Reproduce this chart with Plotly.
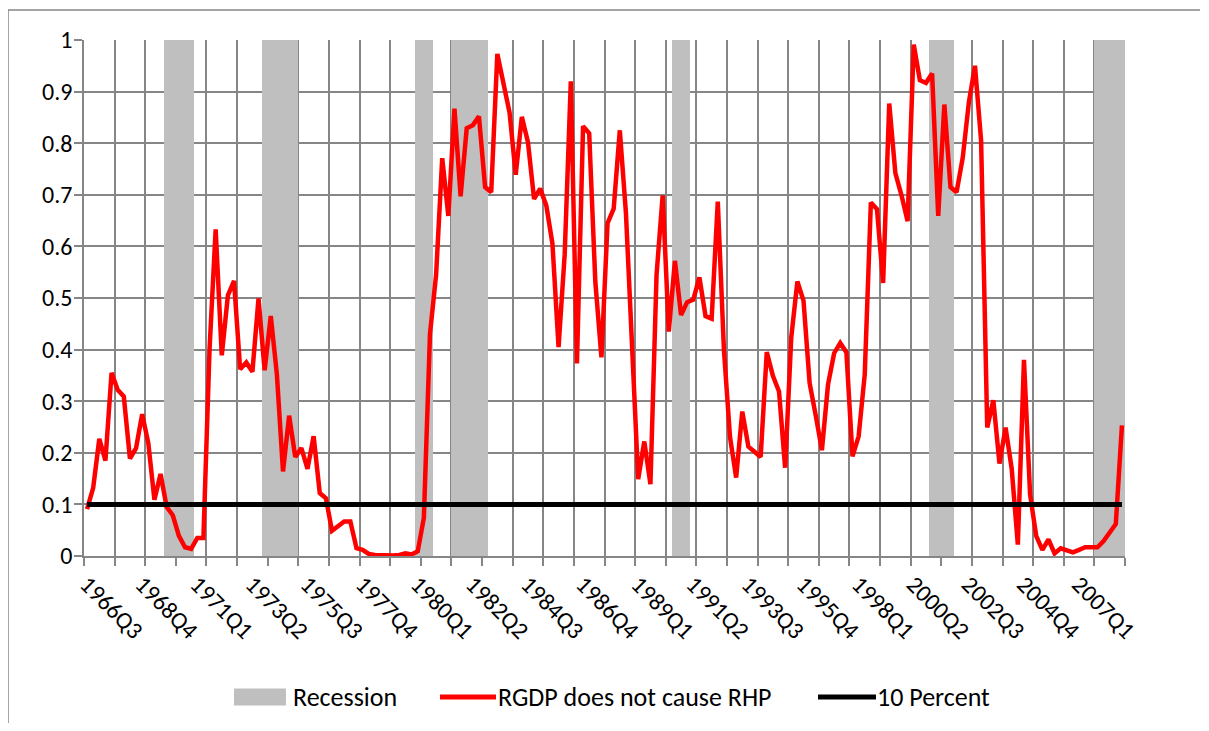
import plotly.graph_objects as go

# ---------------- data ----------------
START = (1966, 3)
END = (2008, 4)

TICK_LABELS = ["1966Q3", "1968Q4", "1971Q1", "1973Q2", "1975Q3", "1977Q4", "1980Q1",
               "1982Q2", "1984Q3", "1986Q4", "1989Q1", "1991Q2", "1993Q3", "1995Q4",
               "1998Q1", "2000Q2", "2002Q3", "2004Q4", "2007Q1"]

RECESSIONS = [("1969Q4", "1970Q4"), ("1973Q4", "1975Q1"), ("1980Q1", "1980Q3"),
              ("1981Q3", "1982Q4"), ("1990Q3", "1991Q1"), ("2001Q1", "2001Q4"),
              ("2007Q4", "2008Q4")]

RGDP_NOT_CAUSE_RHP = [
    0.091, 0.132, 0.227, 0.185, 0.355, 0.322, 0.309, 0.189, 0.209, 0.275,
    0.219, 0.109, 0.159, 0.095, 0.079, 0.039, 0.017, 0.014, 0.035, 0.035,
    0.400, 0.633, 0.389, 0.505, 0.533, 0.362, 0.375, 0.357, 0.499, 0.360,
    0.465, 0.352, 0.164, 0.272, 0.192, 0.209, 0.169, 0.232, 0.122, 0.112,
    0.049, 0.059, 0.067, 0.067, 0.015, 0.012, 0.004, 0.002, 0.001, 0.001,
    0.001, 0.002, 0.005, 0.003, 0.009, 0.074, 0.430, 0.545, 0.771, 0.659,
    0.867, 0.697, 0.829, 0.835, 0.852, 0.715, 0.705, 0.973, 0.919, 0.859,
    0.739, 0.851, 0.802, 0.692, 0.712, 0.679, 0.605, 0.405, 0.585, 0.920,
    0.373, 0.833, 0.819, 0.532, 0.385, 0.645, 0.673, 0.825, 0.665, 0.400,
    0.149, 0.222, 0.139, 0.545, 0.699, 0.435, 0.572, 0.467, 0.492, 0.497,
    0.540, 0.465, 0.460, 0.687, 0.400, 0.230, 0.152, 0.280, 0.212, 0.202,
    0.192, 0.395, 0.349, 0.319, 0.171, 0.424, 0.532, 0.495, 0.335, 0.272,
    0.205, 0.332, 0.393, 0.413, 0.395, 0.193, 0.232, 0.352, 0.685, 0.672,
    0.529, 0.877, 0.742, 0.699, 0.649, 0.991, 0.922, 0.917, 0.935, 0.659,
    0.875, 0.715, 0.705, 0.772, 0.879, 0.950, 0.805, 0.249, 0.302, 0.179,
    0.249, 0.169, 0.022, 0.380, 0.119, 0.039, 0.012, 0.032, 0.005, 0.015,
    0.012, 0.007, 0.012, 0.017, 0.017, 0.017, 0.029, 0.045, 0.062, 0.253,
]

TEN_PERCENT = 0.1

SERIES_NAMES = ["Recession", "RGDP does not cause RHP", "10 Percent"]
SERIES_COLORS = ["#BFBFBF", "#FF0000", "#000000"]

# ---------------- derived ----------------
quarters = []
yr, qt = START
while (yr, qt) <= END:
    quarters.append(f"{yr}Q{qt}")
    qt += 1
    if qt > 4:
        qt = 1
        yr += 1

xs = list(range(len(quarters)))
recession = [0] * len(quarters)
for a, b in RECESSIONS:
    for i in range(quarters.index(a), quarters.index(b) + 1):
        recession[i] = 1

tick_pos = [quarters.index(t) for t in TICK_LABELS]
grid_pos = [i - 0.5 for i in range(0, len(quarters) + 1, 5)]

GRID = "#868686"
FONT = "Calibri, Carlito, Lato, sans-serif"

fig = go.Figure()
fig.add_trace(go.Bar(x=xs, y=recession, width=1, name=SERIES_NAMES[0], showlegend=False,
                     marker=dict(color=SERIES_COLORS[0], line=dict(width=0))))
fig.add_trace(go.Scatter(x=xs, y=RGDP_NOT_CAUSE_RHP, mode="lines", showlegend=False,
                         name=SERIES_NAMES[1],
                         line=dict(color=SERIES_COLORS[1], width=4.5)))
fig.add_trace(go.Scatter(x=xs, y=[TEN_PERCENT] * len(xs), mode="lines", showlegend=False,
                         name=SERIES_NAMES[2],
                         line=dict(color=SERIES_COLORS[2], width=5)))

# ---- legend drawn below the plot (swatch + label per series) ----
LEG_Y = -0.2733
swatch_x = [(0.1441, 0.1940), (0.3420, 0.3958), (0.7051, 0.7608)]
text_gap = [0.0045, -0.0005, -0.0005]
shapes = [
    dict(type="line", xref="paper", yref="paper", x0=-0.073, x1=1.072,
         y0=1.058, y1=1.058, line=dict(color=GRID, width=1.5)),
    dict(type="line", xref="paper", yref="paper", x0=-0.073, x1=-0.073,
         y0=1.058, y1=-0.36, line=dict(color=GRID, width=1.5)),
    dict(type="rect", xref="paper", yref="paper", x0=swatch_x[0][0], x1=swatch_x[0][1],
         y0=LEG_Y - 0.0165, y1=LEG_Y + 0.0165, fillcolor=SERIES_COLORS[0], line=dict(width=0)),
    dict(type="line", xref="paper", yref="paper", x0=swatch_x[1][0], x1=swatch_x[1][1],
         y0=LEG_Y, y1=LEG_Y, line=dict(color=SERIES_COLORS[1], width=5)),
    dict(type="line", xref="paper", yref="paper", x0=swatch_x[2][0], x1=swatch_x[2][1],
         y0=LEG_Y, y1=LEG_Y, line=dict(color=SERIES_COLORS[2], width=5)),
]
annotations = [
    dict(text=name, xref="paper", yref="paper", x=sx[1] + g, y=LEG_Y,
         xanchor="left", yanchor="middle", showarrow=False,
         font=dict(family=FONT, size=26, color="black"))
    for name, sx, g in zip(SERIES_NAMES, swatch_x, text_gap)
]

fig.update_layout(
    width=1193, height=715,
    margin=dict(l=76, r=76, t=32, b=167),
    paper_bgcolor="white", plot_bgcolor="white",
    font=dict(family=FONT, size=24, color="black"),
    bargap=0,
    showlegend=False,
    xaxis=dict(range=[-0.5, len(xs) - 0.5], tickmode="array", tickvals=tick_pos,
               ticktext=TICK_LABELS, tickangle=45, ticks="", showgrid=False,
               showline=True, linecolor=GRID, linewidth=1.5, zeroline=False,
               ticklabelstandoff=3,
               minor=dict(tickmode="array", tickvals=grid_pos, ticks="outside",
                          ticklen=8, tickcolor=GRID, tickwidth=1.5,
                          showgrid=True, gridcolor=GRID, gridwidth=1.5)),
    yaxis=dict(range=[0, 1], tick0=0, dtick=0.1, ticks="outside", ticklen=8,
               tickcolor=GRID, tickwidth=1.5, showgrid=True, gridcolor=GRID,
               gridwidth=1.5, showline=True, linecolor=GRID, linewidth=1.5,
               zeroline=False, ticklabelstandoff=-3),
    shapes=shapes,
    annotations=annotations,
)

fig.write_html("out.html")
